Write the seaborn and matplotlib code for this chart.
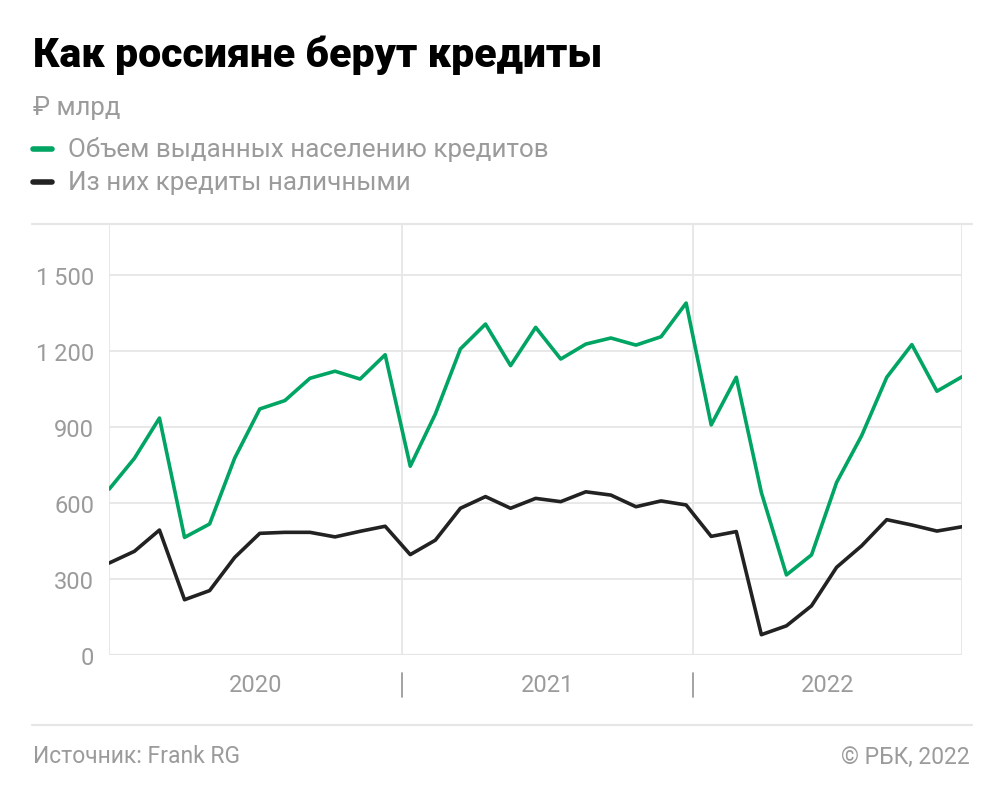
import numpy as np
import pandas as pd
import matplotlib
matplotlib.use('Agg')
import matplotlib.pyplot as plt
import seaborn as sns

# months Jan 2020 .. Nov 2022
months = pd.date_range('2020-01-01', '2022-11-01', freq='MS').strftime('%Y-%m').tolist()

total = [654, 775, 934, 463, 516, 776, 970, 1003, 1091, 1119, 1088, 1184,
         744, 950, 1207, 1305, 1141, 1292, 1167, 1226, 1250, 1222, 1255, 1388,
         907, 1095, 640, 315, 394, 680, 865, 1095, 1224, 1040, 1097]
cash = [362, 408, 492, 217, 253, 384, 479, 483, 483, 465, 487, 507,
        395, 452, 578, 624, 578, 617, 604, 643, 630, 584, 607, 591,
        467, 486, 79, 114, 193, 345, 430, 533, 512, 488, 505]

years = ['2020', '2021', '2022']
year_bounds = [0, 11.66, 23.27, 34]
yticks = [0, 300, 600, 900, 1200, 1500]
ytick_labels = ['0', '300', '600', '900', '1\u2009200', '1\u2009500']

labels = ['Объем выданных населению кредитов', 'Из них кредиты наличными']
GREEN = '#00a463'
BLACK = '#222222'
GRAY = '#9b9b9b'
GRID = '#e6e6e6'

df = pd.DataFrame({'month': months, 'idx': np.arange(len(months)),
                   'total': total, 'cash': cash})

sns.set_style('white')
plt.rcParams['font.family'] = ['Roboto', 'DejaVu Sans']

fig = plt.figure(figsize=(10.05, 8.04), dpi=100)
ax = fig.add_axes([109.3 / 1005, 1 - 655.7 / 804, (962 - 109.3) / 1005, (655.7 - 225) / 804])

sns.lineplot(data=df, x='idx', y='total', color=GREEN, linewidth=2.6, ax=ax)
sns.lineplot(data=df, x='idx', y='cash', color=BLACK, linewidth=2.6, ax=ax)

ax.set_xlim(0, 34)
ax.set_ylim(0, 1700)
for v in yticks[1:]:
    ax.axhline(v, color=GRID, lw=1.3, zorder=0)
for b in year_bounds:
    ax.axvline(b, color=GRID, lw=1.3, zorder=0)
ax.axhline(0, color=GRID, lw=1.6, zorder=0)
for s in ax.spines.values():
    s.set_visible(False)

ax.set_yticks(yticks)
ax.set_yticklabels(ytick_labels, color=GRAY, fontsize=17)
ax.tick_params(axis='y', length=0, pad=11)
ax.set_xticks([])
ax.set_xlabel('')
ax.set_ylabel('')

for i, yr in enumerate(years):
    c = (year_bounds[i] + year_bounds[i + 1]) / 2
    ax.text(c, -0.07, yr, transform=ax.get_xaxis_transform(), ha='center', va='center',
            color=GRAY, fontsize=17)
for b in year_bounds[1:3]:
    ax.plot([b, b], [-0.042, -0.098], transform=ax.get_xaxis_transform(), color=GRAY,
            lw=1.3, clip_on=False)

# top and bottom separator lines
fig.add_artist(plt.Line2D([32 / 1005, 972 / 1005], [1 - 225 / 804] * 2, color=GRID, lw=1.6))
fig.add_artist(plt.Line2D([32 / 1005, 972 / 1005], [1 - 726 / 804] * 2, color=GRID, lw=1.6))

fig.text(33 / 1005, 1 - 55 / 804, 'Как россияне берут кредиты',
         fontweight='black', fontsize=29.5, va='center', ha='left', color='black')
fig.text(33 / 1005, 1 - 108 / 804, '₽ млрд', fontsize=18.5, color=GRAY,
         va='center', ha='left')
for k, (lab, col) in enumerate(zip(labels, [GREEN, BLACK])):
    yy = 1 - (150 + k * 33) / 804
    fig.add_artist(plt.Line2D([33 / 1005, 52 / 1005], [yy, yy], color=col, lw=4))
    fig.text(68 / 1005, yy, lab, fontsize=18.7, color=GRAY, va='center', ha='left')

fig.text(33 / 1005, 1 - 757 / 804, 'Источник: Frank RG', fontsize=16.5, color=GRAY,
         va='center', ha='left')
fig.text(970 / 1005, 1 - 757 / 804, '© РБК, 2022', fontsize=16.5, color=GRAY,
         va='center', ha='right')

fig.savefig('out.png', dpi=100)
